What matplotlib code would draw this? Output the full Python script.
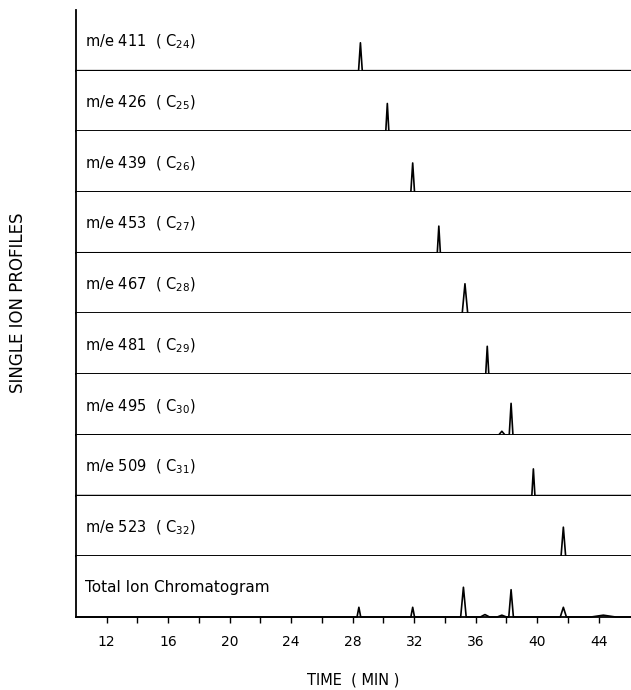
#!/usr/bin/python

"""
Single ion profiles of the C24-C32 series and the total ion chromatogram
"""

import matplotlib
matplotlib.use('Agg')
import matplotlib.pyplot as plt


X_MIN = 10.0
X_MAX = 46.1
LINE_WIDTH = 1.2

# single ion panels, top to bottom
ion_masses = ['411', '426', '439', '453', '467', '481', '495', '509', '523']
carbon_numbers = ['24', '25', '26', '27', '28', '29', '30', '31', '32']
peak_times = [28.5, 30.25, 31.9, 33.6, 35.3, 36.75, 38.3, 39.75, 41.7]
peak_heights = [0.46, 0.46, 0.48, 0.44, 0.49, 0.46, 0.52, 0.44, 0.48]
peak_widths = [0.12, 0.10, 0.12, 0.10, 0.18, 0.10, 0.12, 0.10, 0.15]

# small shoulder seen in the m/e 495 trace
c30_minor_time = 37.7
c30_minor_height = 0.06
c30_minor_width = 0.2

# total ion chromatogram
tic_times = [28.4, 31.9, 35.2, 36.6, 37.7, 38.3, 41.7, 44.3]
tic_heights = [0.16, 0.16, 0.49, 0.04, 0.03, 0.45, 0.16, 0.03]
tic_widths = [0.12, 0.12, 0.18, 0.30, 0.30, 0.15, 0.20, 0.80]

x_ticks = [12, 14, 16, 18, 20, 22, 24, 26, 28, 30, 32, 34, 36, 38, 40, 42, 44]
x_tick_labels = ['12', '', '16', '', '20', '', '24', '', '28', '', '32', '',
                 '36', '', '40', '', '44']


def trace(times, heights, widths):
	"""Baseline with triangular peaks at the given retention times"""
	xs = [X_MIN]
	ys = [0]
	for t, h, w in sorted(zip(times, heights, widths)):
		xs += [t - w, t, t + w]
		ys += [0, h, 0]
	xs.append(X_MAX)
	ys.append(0)
	return xs, ys


def style_panel(ax):
	ax.set_xlim(X_MIN, X_MAX)
	ax.set_ylim(0, 1)
	for side in ['top', 'right']:
		ax.spines[side].set_visible(False)
	ax.spines['left'].set_linewidth(1.3)
	ax.spines['bottom'].set_linewidth(1.3)
	ax.set_yticks([])


fig = plt.figure(figsize=(6.31, 6.90), dpi=100)
gs = fig.add_gridspec(10, 1, left=76 / 631, right=1.0,
                      top=1 - 10 / 690, bottom=1 - 617 / 690, hspace=0)

axes = []
for i in range(10):
	ax = fig.add_subplot(gs[i, 0], sharex=axes[0] if axes else None)
	style_panel(ax)
	axes.append(ax)

for i, ax in enumerate(axes[:-1]):
	times = [peak_times[i]]
	heights = [peak_heights[i]]
	widths = [peak_widths[i]]
	if carbon_numbers[i] == '30':
		times.append(c30_minor_time)
		heights.append(c30_minor_height)
		widths.append(c30_minor_width)
	xs, ys = trace(times, heights, widths)
	ax.plot(xs, ys, color='black', linewidth=LINE_WIDTH, clip_on=False)
	ax.text(0.016, 0.47, 'm/e %s  ( C$_{%s}$)' % (ion_masses[i], carbon_numbers[i]),
	        transform=ax.transAxes, fontsize=10.5, va='center', ha='left')
	ax.tick_params(axis='x', which='both', bottom=False, labelbottom=False)

tic_ax = axes[-1]
xs, ys = trace(tic_times, tic_heights, tic_widths)
tic_ax.plot(xs, ys, color='black', linewidth=LINE_WIDTH, clip_on=False)
tic_ax.text(0.016, 0.49, 'Total Ion Chromatogram', transform=tic_ax.transAxes,
            fontsize=11, va='center', ha='left')
tic_ax.set_xticks(x_ticks)
tic_ax.set_xticklabels(x_tick_labels)
tic_ax.tick_params(axis='x', direction='out', length=4, width=1, pad=9, labelsize=10)
tic_ax.set_xlabel('TIME  ( MIN )', fontsize=10.5, labelpad=17)

fig.text(18 / 631, 1 - 303 / 690, 'SINGLE ION PROFILES', rotation=90,
         fontsize=12, va='center', ha='center')

fig.savefig('out.png', dpi=100)
